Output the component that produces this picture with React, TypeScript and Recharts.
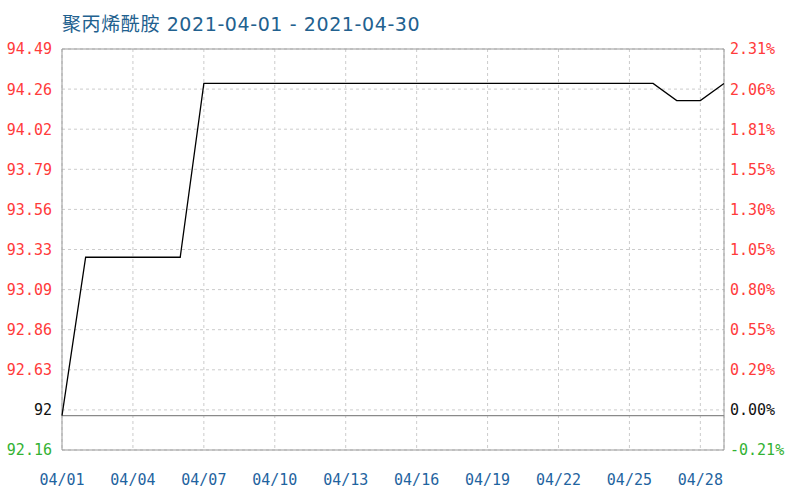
import React from "react";
import { LineChart, Line, XAxis, YAxis, CartesianGrid, ReferenceLine, ReferenceArea } from "recharts";

const dates = [
  "04/01", "04/02", "04/03", "04/04", "04/05", "04/06", "04/07", "04/08", "04/09", "04/10",
  "04/11", "04/12", "04/13", "04/14", "04/15", "04/16", "04/17", "04/18", "04/19", "04/20",
  "04/21", "04/22", "04/23", "04/24", "04/25", "04/26", "04/27", "04/28", "04/29",
];
const prices = [
  92.36, 93.28, 93.28, 93.28, 93.28, 93.28, 94.29, 94.29, 94.29, 94.29,
  94.29, 94.29, 94.29, 94.29, 94.29, 94.29, 94.29, 94.29, 94.29, 94.29,
  94.29, 94.29, 94.29, 94.29, 94.29, 94.29, 94.19, 94.19, 94.29,
];
const basePrice = 92.36;

const leftTickValues = [92.16, 92.393, 92.626, 92.859, 93.092, 93.325, 93.558, 93.791, 94.024, 94.257, 94.49];
const leftTickLabels = ["92.16", "92", "92.63", "92.86", "93.09", "93.33", "93.56", "93.79", "94.02", "94.26", "94.49"];
const rightTickValues = [-0.21, 0.042, 0.294, 0.546, 0.798, 1.05, 1.302, 1.554, 1.806, 2.058, 2.31];
const rightTickLabels = ["-0.21%", "0.00%", "0.29%", "0.55%", "0.80%", "1.05%", "1.30%", "1.55%", "1.81%", "2.06%", "2.31%"];

const title = "聚丙烯酰胺 2021-04-01 - 2021-04-30";

const data = dates.map((d, i) => ({ date: d, price: prices[i] }));

const MONO = "'DejaVu Sans Mono', monospace";

const tickColor = (i: number) => (i === 0 ? "#33b233" : i === 1 ? "#111" : "#ff3b3b");

const LeftTick = (props: any) => {
  const { x, y, index } = props;
  return (
    <text x={x} y={y} dy="0.36em" textAnchor="end" fontFamily={MONO} fontSize={15} fill={tickColor(index)}>
      {leftTickLabels[index]}
    </text>
  );
};

const RightTick = (props: any) => {
  const { x, y, index } = props;
  return (
    <text x={x} y={y} dy="0.36em" textAnchor="start" fontFamily={MONO} fontSize={15} fill={tickColor(index)}>
      {rightTickLabels[index]}
    </text>
  );
};

const BottomTick = (props: any) => {
  const { x, y, payload } = props;
  return (
    <text x={x} y={y} dy="1.8em" textAnchor="middle" fontFamily={MONO} fontSize={15} fill="#1f64a0">
      {payload.value}
    </text>
  );
};

export default function App() {
  return (
    <div style={{ position: "absolute", left: 0, top: 0, width: 800, height: 500, background: "#fff" }}>
      <div
        style={{
          position: "absolute",
          left: 62,
          top: 9,
          fontFamily: "'DejaVu Sans', 'Noto Sans CJK SC', sans-serif",
          fontSize: 19,
          letterSpacing: 0.6,
          color: "#22618f",
          whiteSpace: "nowrap",
        }}
      >
        {title}
      </div>
      <LineChart width={800} height={500} data={data} margin={{ top: 49, right: 0, bottom: 20, left: 0 }}>
        <CartesianGrid yAxisId="left" stroke="#cccccc" strokeDasharray="3 3" />
        <XAxis
          dataKey="date"
          interval={2}
          height={30}
          tick={<BottomTick />}
          tickLine={false}
          axisLine={false}
          tickSize={0}
          tickMargin={8}
        />
        <YAxis
          yAxisId="left"
          width={62}
          domain={[92.16, 94.49]}
          ticks={leftTickValues}
          allowDataOverflow
          tick={<LeftTick />}
          tickLine={false}
          axisLine={false}
          tickSize={0}
          tickMargin={10}
        />
        <YAxis
          yAxisId="right"
          orientation="right"
          width={76}
          domain={[-0.21, 2.31]}
          ticks={rightTickValues}
          allowDataOverflow
          tick={<RightTick />}
          tickLine={false}
          axisLine={false}
          tickSize={0}
          tickMargin={6}
        />
        <ReferenceArea
          yAxisId="left"
          y1={92.16}
          y2={94.49}
          fill="none"
          stroke="#999999"
          strokeWidth={1}
          ifOverflow="visible"
        />
        <ReferenceLine yAxisId="left" y={basePrice} stroke="#8a8a8a" strokeWidth={1.2} />
        <Line
          yAxisId="left"
          type="linear"
          dataKey="price"
          stroke="#000"
          strokeWidth={1.3}
          dot={false}
          isAnimationActive={false}
        />
      </LineChart>
    </div>
  );
}
